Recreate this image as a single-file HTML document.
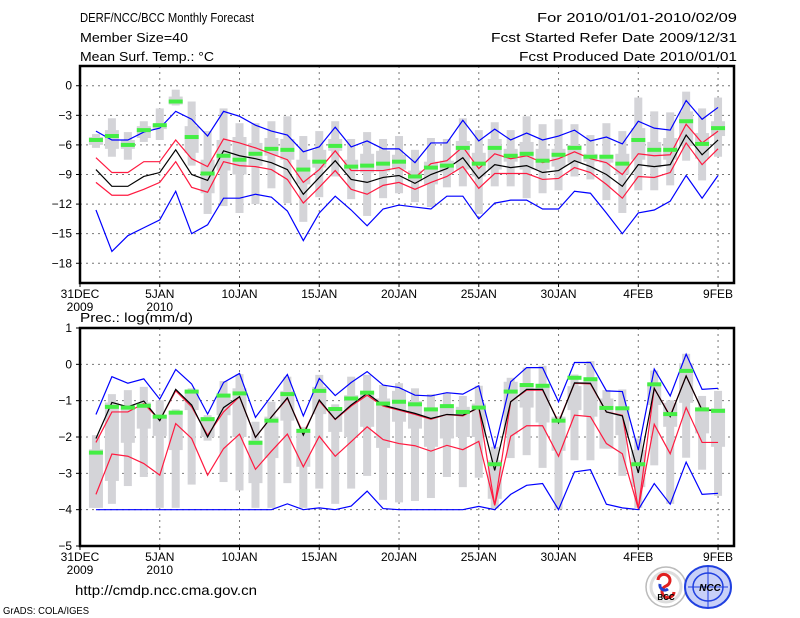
<!DOCTYPE html>
<html><head><meta charset="utf-8"><title>DERF/NCC/BCC Monthly Forecast</title>
<style>
html,body{margin:0;padding:0;background:#fff;}
svg{display:block;}
text{font-family:"Liberation Sans",sans-serif;fill:#000;}
</style></head>
<body>
<svg id="chart" width="800" height="618" viewBox="0 0 800 618" xmlns="http://www.w3.org/2000/svg">
<rect x="0" y="0" width="800" height="618" fill="#fff"/>
<g font-size="13">
<text x="80" y="22" textLength="174" lengthAdjust="spacingAndGlyphs">DERF/NCC/BCC Monthly Forecast</text>
<text x="80" y="42" textLength="108" lengthAdjust="spacingAndGlyphs">Member Size=40</text>
<text x="80" y="61" textLength="134" lengthAdjust="spacingAndGlyphs">Mean Surf. Temp.: °C</text>
<text x="737" y="22" text-anchor="end" textLength="200" lengthAdjust="spacingAndGlyphs">For 2010/01/01-2010/02/09</text>
<text x="737" y="42" text-anchor="end" textLength="246" lengthAdjust="spacingAndGlyphs">Fcst Started Refer Date 2009/12/31</text>
<text x="737" y="61" text-anchor="end" textLength="218" lengthAdjust="spacingAndGlyphs">Fcst Produced Date 2010/01/01</text>
</g>
<text x="80" y="322" font-size="13" textLength="113" lengthAdjust="spacingAndGlyphs">Prec.: log(mm/d)</text>
<g id="top"></g>
<g id="bot"></g>
<text x="75" y="595" font-size="14" textLength="182" lengthAdjust="spacingAndGlyphs">http://cmdp.ncc.cma.gov.cn</text>
<text x="3" y="614" font-size="10" textLength="86" lengthAdjust="spacingAndGlyphs">GrADS: COLA/IGES</text>
<g>
<circle cx="666" cy="587" r="20" fill="#fff" stroke="#bbb" stroke-width="1.5"/>
<circle cx="666" cy="587" r="15" fill="none" stroke="#ddd" stroke-width="3"/>
<path d="M658 580 a6 6 0 1 1 8 6 a6 6 0 1 0 8 6" fill="none" stroke="#e02020" stroke-width="3"/>
<path d="M660 584 a5 5 0 0 0 8 5" fill="none" stroke="#2040d0" stroke-width="3"/>
<text x="666" y="600" font-size="8" font-weight="bold" text-anchor="middle" fill="#333">BCC</text>
</g>
<g>
<ellipse cx="708" cy="587" rx="23" ry="21" fill="#c8d0f8" stroke="#2040e0" stroke-width="2"/>
<ellipse cx="708" cy="587" rx="15" ry="14" fill="none" stroke="#2040e0" stroke-width="1.5"/>
<path d="M688 587 h40 M708 566 v42" stroke="#2040e0" stroke-width="1"/>
<text x="710" y="591" font-size="10" font-weight="bold" font-style="italic" text-anchor="middle" fill="#1030d0">NCC</text>
</g>
</svg>
<script>
// ---------- Temperature panel data (days 1..40: Jan 1 - Feb 9) ----------
const tBlueHi=[-4.6,-5.5,-5.5,-4.7,-4.3,-2.6,-3.4,-5.1,-2.6,-3.1,-4.0,-4.6,-5.0,-6.7,-6.2,-4.2,-6.2,-5.6,-6.4,-6.4,-7.8,-5.8,-5.8,-3.5,-5.6,-4.4,-5.5,-4.8,-5.5,-5.1,-4.5,-5.6,-5.2,-5.9,-3.6,-4.3,-4.5,-1.5,-3.4,-2.2];
const tRedHi=[-7.3,-8.8,-8.8,-7.7,-7.7,-5.5,-7.4,-8.2,-5.4,-5.8,-6.3,-6.9,-7.5,-9.8,-8.5,-6.6,-8.6,-8.6,-8.6,-8.3,-9.3,-7.9,-7.6,-6.2,-8.4,-6.9,-7.4,-7.1,-7.8,-7.4,-6.7,-7.4,-7.8,-9.0,-6.9,-7.1,-7.0,-3.9,-5.8,-4.6];
const tMean=[-8.5,-10.2,-10.2,-9.2,-8.8,-6.5,-9.0,-9.6,-6.6,-7.1,-7.4,-7.8,-8.5,-11.0,-9.3,-7.6,-9.5,-9.8,-9.3,-9.1,-9.9,-9.0,-8.4,-7.3,-9.4,-8.0,-8.3,-8.1,-8.8,-8.6,-7.6,-8.2,-9.0,-10.2,-8.0,-8.2,-8.0,-5.0,-7.0,-5.5];
const tRedLo=[-9.8,-11.1,-11.1,-10.5,-9.8,-7.7,-10.3,-10.8,-7.7,-8.1,-8.2,-8.5,-9.5,-11.9,-10.3,-8.6,-10.5,-11.0,-10.1,-9.8,-10.5,-9.8,-9.2,-8.2,-10.4,-8.9,-8.9,-8.9,-9.5,-9.4,-8.3,-8.8,-10.0,-11.4,-9.2,-9.3,-8.8,-5.8,-8.0,-6.4];
const tBlueLo=[-12.6,-16.8,-15.2,-14.4,-13.6,-10.7,-15.0,-14.1,-11.4,-11.4,-11.0,-11.3,-12.7,-15.7,-12.9,-11.2,-12.6,-14.2,-12.5,-12.1,-12.3,-12.5,-11.2,-11.2,-13.5,-11.9,-11.6,-11.6,-12.5,-12.5,-10.7,-10.9,-12.9,-15.0,-12.9,-12.6,-11.7,-9.1,-11.4,-9.1];
const tObs=[-5.5,-5.1,-6.0,-4.5,-4.0,-1.6,-5.2,-8.9,-7.1,-7.5,-6.9,-6.4,-6.5,-8.5,-7.7,-6.1,-8.2,-8.1,-7.9,-7.7,-9.2,-8.3,-8.1,-6.3,-7.9,-6.3,-7.1,-6.9,-7.6,-7.0,-6.3,-7.2,-7.2,-7.9,-5.5,-6.5,-6.5,-3.6,-5.9,-4.3];
const tWhiskHi=[-4.9,-3.3,-4.7,-3.6,-2.3,-0.4,-1.6,-4.6,-2.3,-3.8,-3.8,-3.6,-3.1,-5.1,-4.6,-3.6,-5.4,-4.7,-5.4,-5.1,-6.5,-5.3,-5.4,-3.3,-4.5,-3.7,-4.5,-3.1,-3.9,-3.4,-3.9,-5.0,-3.8,-4.6,-1.2,-2.6,-2.7,-0.6,-2.3,-1.2];
const tWhiskLo=[-6.3,-7.2,-7.5,-5.7,-5.5,-2.0,-8.1,-13.0,-12.2,-12.9,-12.0,-10.4,-11.9,-13.8,-11.3,-9.2,-11.5,-13.2,-11.4,-10.9,-11.8,-12.3,-10.3,-10.2,-13.0,-10.2,-10.2,-11.4,-10.9,-10.6,-9.2,-9.5,-11.6,-12.9,-10.6,-10.6,-10.1,-7.6,-9.6,-7.2];
const tBoxHi=[-5.2,-4.5,-5.5,-4.1,-3.9,-1.1,-4.1,-7.5,-5.5,-5.2,-5.8,-5.3,-5.4,-7.5,-6.5,-5.4,-7.5,-6.9,-6.6,-7.0,-8.6,-7.7,-7.6,-5.6,-6.8,-5.4,-6.4,-5.7,-6.4,-6.4,-6.0,-6.9,-7.0,-6.9,-4.3,-5.7,-5.3,-2.6,-4.8,-3.6];
const tBoxLo=[-6.0,-6.4,-6.4,-5.3,-4.4,-1.9,-6.8,-10.9,-8.6,-9.0,-8.1,-7.1,-7.5,-10.0,-8.3,-6.6,-8.7,-8.8,-8.7,-8.5,-9.7,-10.0,-8.8,-8.5,-9.2,-8.5,-7.7,-8.5,-8.5,-8.2,-7.8,-7.7,-7.8,-9.0,-7.5,-8.3,-7.5,-6.1,-7.4,-5.1];
const tTicks=[0,-3,-6,-9,-12,-15,-18];
// ---------- Precipitation panel data ----------
const pBlueHi=[-1.38,-0.34,-0.52,-0.4,-0.96,-0.14,-0.54,-1.37,-0.5,-0.25,-1.46,-0.87,-0.28,-1.42,-0.39,-0.86,-0.5,-0.2,-0.57,-0.64,-0.85,-0.87,-0.78,-0.82,-0.59,-2.32,-0.48,-0.09,-0.09,-1.03,0.05,0.05,-0.73,-0.75,-2.36,-0.13,-0.87,0.28,-0.69,-0.66];
const pMean=[-2.04,-1.05,-1.17,-1.01,-1.55,-0.69,-1.12,-2.0,-1.19,-0.89,-2.01,-1.45,-0.92,-1.95,-0.98,-1.51,-1.12,-0.8,-1.12,-1.24,-1.35,-1.49,-1.38,-1.4,-1.19,-2.92,-1.03,-0.69,-0.69,-1.61,-0.51,-0.52,-1.31,-1.42,-2.99,-0.66,-1.44,-0.32,-1.26,-1.26];
const pRedHi=[-2.15,-1.31,-1.31,-1.08,-1.54,-0.73,-1.17,-1.95,-1.31,-0.89,-2.01,-1.45,-0.94,-1.9,-1.01,-1.52,-1.15,-0.85,-1.15,-1.26,-1.38,-1.51,-1.38,-1.42,-1.19,-3.88,-1.03,-0.71,-0.71,-1.58,-0.52,-0.54,-1.31,-1.4,-3.97,-0.66,-1.42,-0.32,-1.26,-1.26];
const pRedLo=[-3.58,-2.47,-2.53,-2.73,-3.05,-1.63,-2.04,-3.05,-2.32,-1.92,-2.89,-2.39,-1.92,-2.82,-1.98,-2.53,-2.13,-1.72,-2.07,-2.18,-2.24,-2.39,-2.23,-2.35,-2.12,-3.88,-1.98,-1.69,-1.69,-2.53,-1.4,-1.44,-2.18,-2.46,-3.97,-1.65,-2.46,-1.19,-2.15,-2.15];
const pBlueLo=[-4,-4,-4,-4,-4,-4,-4,-4,-4,-4,-4,-4,-3.84,-4,-3.95,-4,-3.9,-3.49,-3.97,-4,-4,-4,-4,-4,-3.91,-4,-3.58,-3.33,-3.28,-4,-2.96,-2.9,-3.85,-3.95,-4,-3.28,-3.85,-2.69,-3.58,-3.55];
const pObs=[-2.43,-1.17,-1.19,-1.14,-1.44,-1.33,-0.75,-1.51,-0.86,-0.8,-2.16,-1.55,-0.82,-1.83,-0.73,-1.23,-0.94,-0.78,-1.08,-1.03,-1.1,-1.24,-1.15,-1.31,-1.19,-2.75,-0.75,-0.57,-0.59,-1.55,-0.37,-0.41,-1.2,-1.21,-2.75,-0.55,-1.37,-0.18,-1.24,-1.28];
const pWhiskHi=[-1.95,-0.82,-0.71,-0.62,-0.99,-1.24,-0.66,-1.4,-0.46,-0.27,-1.58,-1.03,-0.34,-1.72,-0.29,-1.1,-0.34,-0.29,-0.57,-0.52,-0.66,-0.82,-0.78,-0.87,-0.59,-2.27,-0.37,-0.09,-0.04,-1.43,-0.28,0.09,-0.71,-0.69,-2.04,-0.17,-0.99,0.29,-0.87,-0.73];
const pWhiskLo=[-3.95,-3.84,-3.35,-3.1,-3.95,-3.95,-3.31,-2.1,-3.24,-3.47,-3.95,-3.95,-3.27,-3.95,-3.42,-3.84,-3.42,-3.07,-3.73,-3.8,-3.76,-3.68,-3.1,-3.38,-3.12,-3.97,-2.58,-2.5,-2.85,-3.99,-2.64,-2.64,-2.32,-3.07,-3.95,-2.78,-3.84,-2.57,-2.9,-3.62];
const pBoxHi=[-2.34,-1.05,-1.12,-1.05,-1.4,-1.28,-0.71,-1.45,-0.91,-0.66,-2.09,-1.44,-0.73,-1.86,-0.62,-1.19,-0.85,-0.75,-0.94,-0.73,-1.01,-1.19,-1.19,-1.17,-1.08,-2.64,-0.48,-0.57,-0.62,-1.44,-0.6,-0.43,-0.94,-1.17,-2.36,-0.52,-1.06,0.03,-1.21,-1.21];
const pBoxLo=[-3.95,-3.21,-2.16,-1.77,-1.97,-2.36,-1.26,-2.0,-1.4,-2.0,-3.27,-2.58,-1.55,-2.82,-1.37,-1.86,-2.0,-1.72,-2.3,-1.58,-1.77,-2.27,-2.04,-2.0,-2.0,-3.7,-1.93,-1.19,-1.6,-2.38,-1.26,-1.44,-2.32,-1.95,-3.38,-1.12,-1.72,-1.06,-1.9,-2.27];
const pTicks=[1,0,-1,-2,-3,-4,-5];
const xTickDays=[0,5,10,15,20,25,30,35,40];
const xTickLabels=["31DEC","5JAN","10JAN","15JAN","20JAN","25JAN","30JAN","4FEB","9FEB"];
const xTickYears=["2009","2010","","","","","","",""];

const NS="http://www.w3.org/2000/svg";
const X0=80,X1=734,DAYS_END=41;
function xs(d){return X0+(X1-X0)*d/DAYS_END;}
function mk(tag,attrs,parent){const e=document.createElementNS(NS,tag);for(const k in attrs)e.setAttribute(k,attrs[k]);parent.appendChild(e);return e;}

function panel(g,top,bot,vmax,vmin,ticks,series,prefix){
  const ys=v=>top+(vmax-v)*(bot-top)/(vmax-vmin);
  ticks.forEach(t=>{
    if(t<vmax&&t>vmin){const l=mk('line',{x1:X0,x2:X1,y1:ys(t),y2:ys(t),stroke:'#777','stroke-width':1,'stroke-dasharray':'2,4'},g);
    
    }
    const tx=mk('text',{x:X0-8,y:ys(t)+4,'font-size':12,'text-anchor':'end'},g);
    tx.textContent=(t<0?'\u2212'+Math.abs(t):String(t));
    
    
    const tk=mk('line',{x1:X0-4,x2:X0,y1:ys(t),y2:ys(t),stroke:'#000'},g);
    
    
  });
  xTickDays.forEach((d,i)=>{
    if(d>0){const l=mk('line',{x1:xs(d),x2:xs(d),y1:top,y2:bot,stroke:'#777','stroke-width':1,'stroke-dasharray':'2,4'},g);
    
    }
    const tk=mk('line',{x1:xs(d),x2:xs(d),y1:bot,y2:bot+4,stroke:'#000'},g);
    
    
    const tx=mk('text',{x:xs(d),y:bot+15,'font-size':12,'text-anchor':'middle'},g);
    tx.textContent=xTickLabels[i];
    
    
    if(xTickYears[i]){const ty=mk('text',{x:xs(d),y:bot+28,'font-size':12,'text-anchor':'middle'},g);
    ty.textContent=xTickYears[i];
    
    }
  });
  for(let i=0;i<series.wHi.length;i++){
    const x=xs(i+1);
    const w=mk('rect',{x:x-4,y:ys(series.wHi[i]),width:8,height:Math.max(1,ys(series.wLo[i])-ys(series.wHi[i])),fill:'#d4d4d8'},g);
    
    
    const b=mk('rect',{x:x-7,y:ys(series.bHi[i]),width:14,height:Math.max(1,ys(series.bLo[i])-ys(series.bHi[i])),fill:'#d4d4d8'},g);
    
    
  }
  const line=(arr,col,name)=>{
    const p=mk('polyline',{points:arr.map((v,i)=>xs(i+1)+','+ys(v)).join(' '),fill:'none',stroke:col,'stroke-width':1.2},g);
    
    
  };
  line(series.blueLo,'#0000ff',prefix+'-min-line');
  line(series.blueHi,'#0000ff',prefix+'-max-line');
  line(series.redLo,'#ff1a40',prefix+'-lower-line');
  line(series.redHi,'#ff1a40',prefix+'-upper-line');
  line(series.mean,'#000',prefix+'-mean-line');
  series.obs.forEach((v,i)=>{
    const r=mk('rect',{x:xs(i+1)-7,y:ys(v)-2,width:14,height:4,fill:'#44ee44'},g);
    
    
  });
  const f=mk('rect',{x:X0,y:top,width:X1-X0,height:bot-top,fill:'none',stroke:'#000','stroke-width':2.5},g);
  
  
}
panel(document.getElementById('top'),66,283,2,-20,tTicks,{wHi:tWhiskHi,wLo:tWhiskLo,bHi:tBoxHi,bLo:tBoxLo,blueHi:tBlueHi,blueLo:tBlueLo,redHi:tRedHi,redLo:tRedLo,mean:tMean,obs:tObs},'temp');
panel(document.getElementById('bot'),328,546,1,-5,pTicks,{wHi:pWhiskHi,wLo:pWhiskLo,bHi:pBoxHi,bLo:pBoxLo,blueHi:pBlueHi,blueLo:pBlueLo,redHi:pRedHi,redLo:pRedLo,mean:pMean,obs:pObs},'prec');
</script>
</body></html>
